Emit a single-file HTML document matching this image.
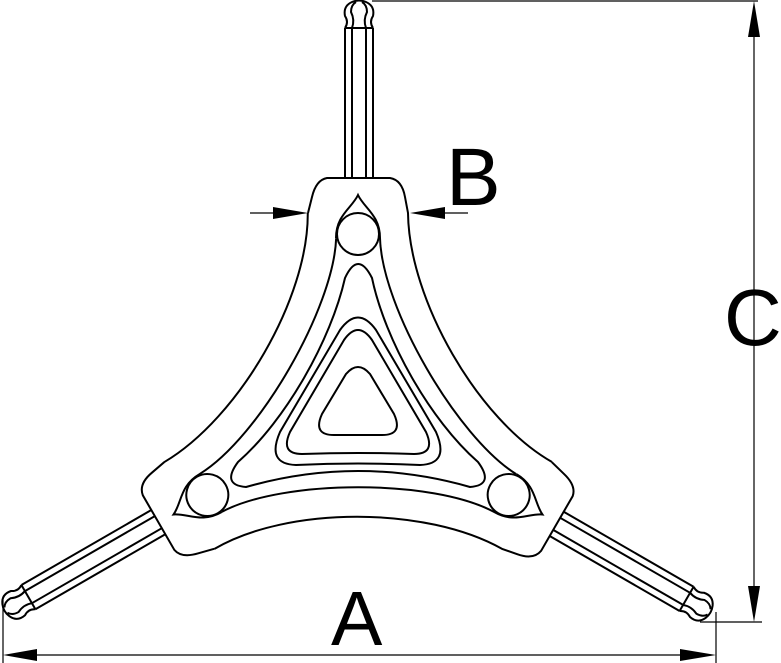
<!DOCTYPE html>
<html><head><meta charset="utf-8"><style>
html,body{margin:0;padding:0;background:#fff;}
svg{display:block;}
text{font-family:"Liberation Sans",sans-serif;fill:#000;}
</style></head><body>
<svg width="781" height="663" viewBox="0 0 781 663" xmlns="http://www.w3.org/2000/svg">
<defs>
<g id="shaft" fill="none" stroke="#000" stroke-width="2">
  <line x1="345" y1="28" x2="345" y2="178"/>
  <line x1="352" y1="28" x2="352" y2="178"/>
  <line x1="366" y1="28" x2="366" y2="178"/>
  <line x1="373" y1="28" x2="373" y2="178"/>
  <line x1="345" y1="28" x2="373" y2="28"/>
  <path d="M345,28 Q349,22 345,16 Q343,6 352,2 Q359,-1 366,2 Q375,6 373,16 Q369,22 373,28"/>
  <path d="M352,28 Q355,20 351,12 Q351,5 356,2"/>
  <path d="M366,28 Q363,20 367,12 Q367,5 362,2"/>
</g>
<g id="sector" fill="none" stroke="#000" stroke-width="2">
  <path d="M308,213 L312,197 Q316,180 327,178 L390,178 Q402,180 405,197 L408,213 C409,300 478,420 552,462"/>
  <path d="M336,238 C336,215 352,208 358,195 C364,208 380,215 380,238 C382,308 457,437 516,474"/>
  <circle cx="358" cy="234" r="21"/>
</g>
</defs>

<use href="#shaft"/>
<use href="#shaft" transform="rotate(120 358 408)"/>
<use href="#shaft" transform="rotate(-120 358 408)"/>
<rect x="0" y="0" width="0" height="0"/>
<g>
<use href="#sector"/>
<use href="#sector" transform="rotate(120 358 408)"/>
<use href="#sector" transform="rotate(240 358 408)"/>
</g>

<g fill="none" stroke="#000" stroke-width="2">
  <path d="M345,278 Q358,250 372,278 C385,340 430,420 478,462 Q495,485 470,487 Q358,455 246,487 Q221,485 238,462 C286,420 331,340 345,278 Z"/>
  <path d="M340,330 Q358,305 376,330 L436,432 Q450,464 420,465 Q358,462 296,465 Q266,464 280,432 Z"/>
  <path d="M344,340 Q358,320 372,340 L426,432 Q436,454 414,454 Q358,452 302,454 Q280,454 290,432 Z"/>
  <path d="M346,374 Q358,360 370,374 L394,414 Q404,436 380,435 L336,435 Q312,436 322,414 Z"/>
</g>

<!-- dimensions -->
<g stroke="#000" stroke-width="1.2" fill="none">
  <line x1="372" y1="1" x2="758" y2="1"/>
  <line x1="700" y1="622" x2="762" y2="622"/>
  <line x1="754" y1="30" x2="754" y2="600"/>
  <line x1="3" y1="600" x2="3" y2="663"/>
  <line x1="716" y1="612" x2="716" y2="663"/>
  <line x1="30" y1="655" x2="690" y2="655"/>
  <line x1="250" y1="213" x2="280" y2="213"/>
  <line x1="440" y1="213" x2="468" y2="213"/>
</g>
<g fill="#000">
  <polygon points="754,1 748,37 760,37"/>
  <polygon points="754,622 748,586 760,586"/>
  <polygon points="3,655 37,649 37,661"/>
  <polygon points="716,655 680,649 680,661"/>
  <polygon points="308,213 273,207 273,219"/>
  <polygon points="410,213 445,207 445,219"/>
</g>
<text x="331" y="645" font-size="77">A</text>
<text x="446" y="205" font-size="82">B</text>
<text x="724" y="345" font-size="80">C</text>
</svg>
</body></html>
